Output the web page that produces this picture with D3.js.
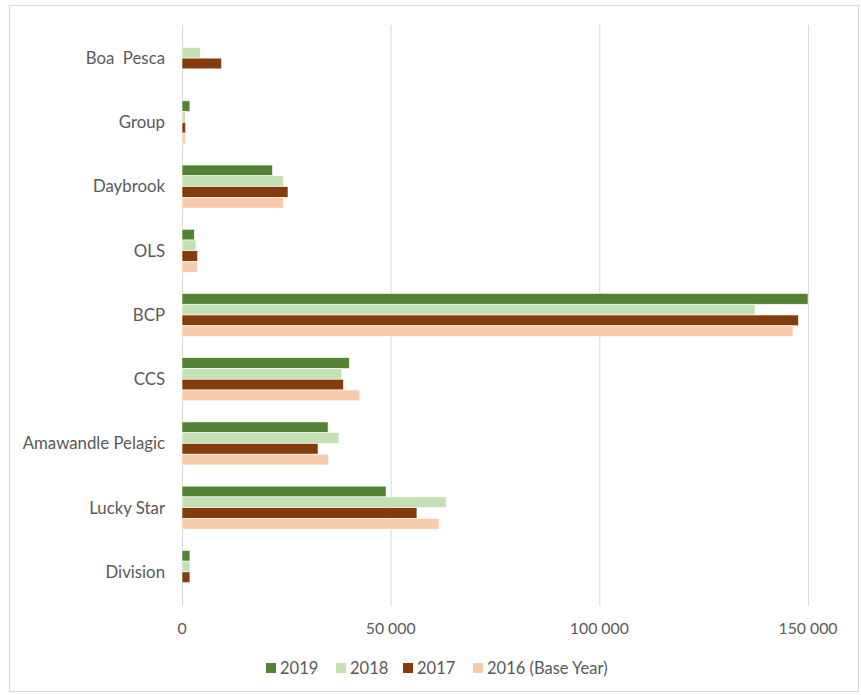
<!DOCTYPE html>
<html><head><meta charset="utf-8">
<script src="https://cdn.jsdelivr.net/npm/d3@7"></script>
<style>body{margin:0;background:#fff;} svg{display:block;font-family:Lato, "Open Sans", sans-serif;}</style>
</head><body>
<svg id="c" width="861" height="695"></svg>
<script>
const categories = ["Boa  Pesca","Group","Daybrook","OLS","BCP","CCS","Amawandle Pelagic","Lucky Star","Division"];
const seriesNames = ["2019","2018","2017","2016 (Base Year)"];
const colors = ["#548235","#C5E0B4","#843C0C","#F8CBAD"];
const v2019 = [0,1900,21700,2950,150000,40100,35000,48900,1900];
const v2018 = [4400,800,24300,3350,137300,38300,37600,63300,1900];
const v2017 = [9500,870,25400,3750,147700,38700,32600,56300,1900];
const v2016 = [0,870,24300,3750,146400,42600,35100,61600,0];
const xTicks = [0,50000,100000,150000];
const values = [v2019,v2018,v2017,v2016];

const svg = d3.select("#c");
svg.append("rect").attr("x",9.5).attr("y",5.5).attr("width",849).attr("height",686)
  .attr("fill","#fff").attr("stroke","#d9d9d9");

const x = d3.scaleLinear().domain([0,150000]).range([182,808]);
const y = d3.scaleBand().domain(categories).range([25,603]).paddingInner(0.33).paddingOuter(0.165);
const yi = d3.scaleBand().domain(seriesNames).range([0,y.bandwidth()]);

// gridlines
svg.append("g").selectAll("line").data(xTicks).join("line")
  .attr("x1",d=>x(d)+0.5).attr("x2",d=>x(d)+0.5).attr("y1",25).attr("y2",606)
  .attr("stroke","#d9d9d9").attr("stroke-width",1);

// bars
const g = svg.append("g");
seriesNames.forEach((s,si)=>{
  g.append("g").selectAll("rect").data(categories).join("rect")
    .attr("x",x(0)).attr("y",(c)=>y(c)+yi(s)+1)
    .attr("width",(c,i)=>Math.max(0,x(values[si][i])-x(0)))
    .attr("height",yi.bandwidth())
    .attr("fill",colors[si])
    .attr("stroke",(c,i)=>values[si][i]>0?"#fff":"none").attr("stroke-width",0.6);
});

// category labels
svg.append("g").selectAll("text").data(categories).join("text")
  .attr("x",165).attr("y",c=>y(c)+y.bandwidth()/2+1).attr("dy","0.35em")
  .attr("text-anchor","end").attr("fill","#595959").attr("font-size",16.8)
  .style("white-space","pre").text(d=>d);

// x tick labels
const fmt = d => d3.format(",")(d).replace(/,/g," ");
svg.append("g").selectAll("text").data(xTicks).join("text")
  .attr("x",d=>x(d)).attr("y",628).attr("dy","0.35em").attr("text-anchor","middle")
  .attr("fill","#595959").attr("font-size",15.8).text(fmt);

// legend
const legX = [266,336,403,473];
const leg = svg.append("g");
seriesNames.forEach((s,i)=>{
  leg.append("rect").attr("x",legX[i]).attr("y",663).attr("width",10).attr("height",10).attr("fill",colors[i]);
  leg.append("text").attr("x",legX[i]+14).attr("y",668).attr("dy","0.35em")
    .attr("fill","#595959").attr("font-size",16.5).text(s);
});
</script>
</body></html>
